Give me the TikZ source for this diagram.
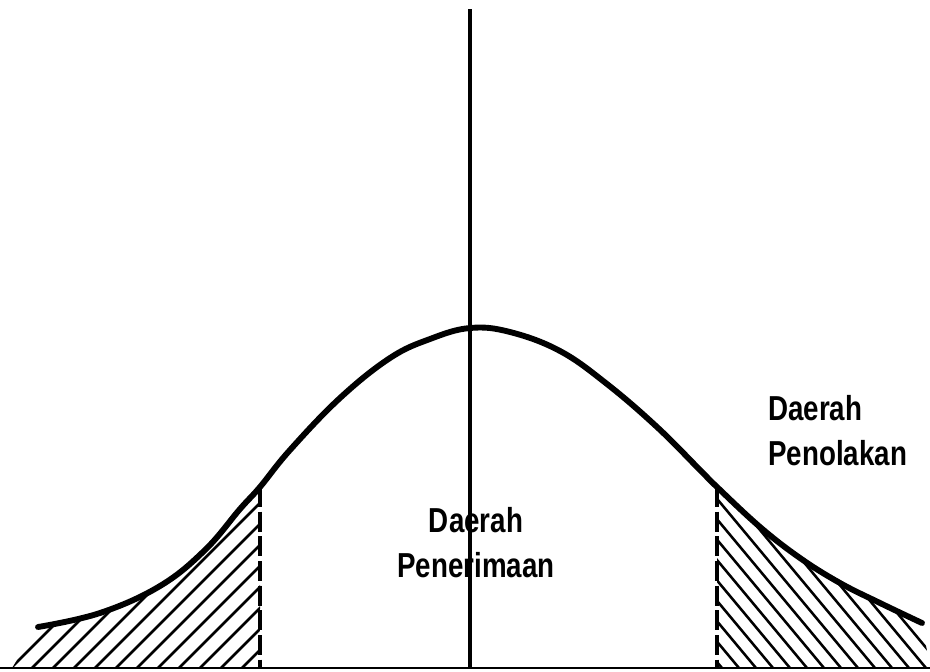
\documentclass[tikz,border=0pt]{standalone}
\usepackage{fontspec}
\newfontfamily\labfont[FakeStretch=0.8]{Liberation Sans}
\begin{document}
\begin{tikzpicture}[x=0.75pt,y=-0.75pt,
  curveline/.style={line width=4.4pt,line cap=round,line join=round},
  axisline/.style={line width=2.3pt},
  baseln/.style={line width=2pt},
  hatchln/.style={line width=1.9pt},
  dashln/.style={line width=2.6pt,dash pattern=on 15pt off 3.5pt},
  lab/.style={inner sep=0pt,font=\labfont\bfseries\fontsize{26}{33.75}\selectfont}]
\useasboundingbox (0,0) rectangle (930,671);
\fill[white] (0,0) rectangle (930,671);
% key points
\coordinate (top) at (470,9);
\coordinate (bot) at (470,668);
\coordinate (bl) at (0,668);
\coordinate (br) at (930,668);
\coordinate (ld) at (260,487);
\coordinate (ldb) at (260,668);
\coordinate (rd) at (717,487);
\coordinate (rdb) at (717,668);
% hatching left
\begin{scope}
\clip (12,668) -- (38,627) -- plot[smooth] coordinates {(38,627) (100,614) (160,585) (200,555) (240,508) (260,487)} -- (260,668) -- cycle;
\foreach \i in {0,...,25} {
  \draw[hatchln] ({-220+21*\i},668) -- ++(260,-260);
}
\end{scope}
% hatching right
\begin{scope}
\clip (717,668) -- plot[smooth] coordinates {(717,487) (760,527) (800,558) (840,583) (880,603) (922,623)} -- (930,668) -- cycle;
\foreach \i in {0,...,28} {
  \draw[hatchln] ({722+17*\i},668) -- ++(-200,-240);
}
\end{scope}
% base line
\draw[baseln] (bl) -- (br);
% dashed boundaries
\draw[dashln] (ld) -- (ldb);
\draw[dashln] (rd) -- (rdb);
% bell curve
\draw[curveline] plot[smooth,tension=0.65] coordinates {(38,627) (100,613) (160,586) (205,550) (240,509) (260,487) (290,450) (340,398) (390,358) (430,339) (470,328) (510,332) (560,351) (607,384) (657,427) (700,470) (717,487) (760,527) (800,558) (840,583) (880,603) (922,623)};
% axis
\draw[axisline] (top) -- (bot);
% labels
\node[lab,anchor=base west] (rej1) at (768,420) {Daerah};
\node[lab,anchor=base west] (rej2) at (768,465) {Penolakan};
\node[lab,anchor=base] (acc1) at (476,532) {Daerah};
\node[lab,anchor=base] (acc2) at (476,577) {Penerimaan};
\end{tikzpicture}
\end{document}
